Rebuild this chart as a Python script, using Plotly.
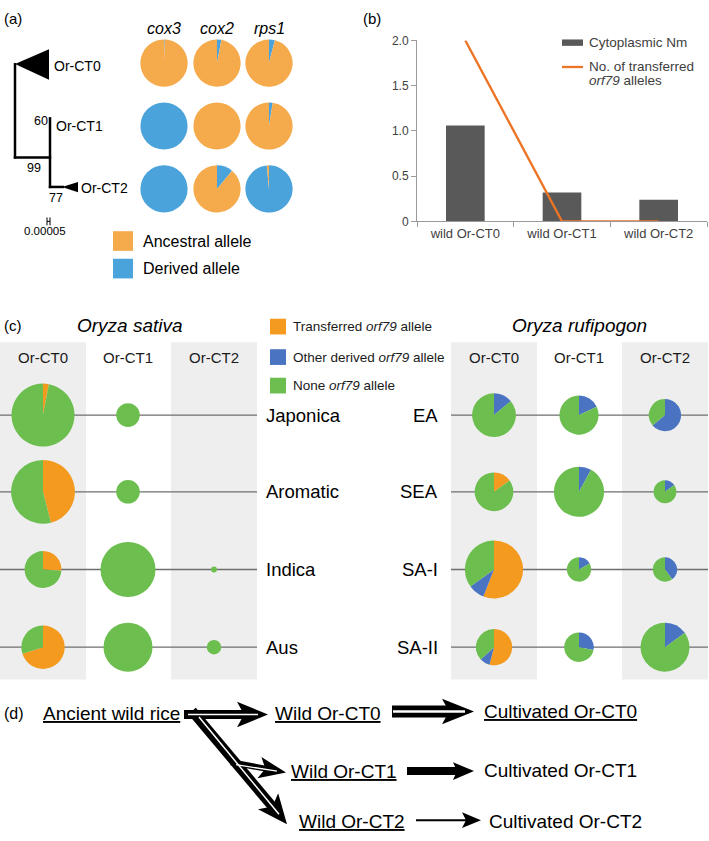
import math
import plotly.graph_objects as go

W, H = 709, 841
FONT = "Liberation Sans, Arial, Helvetica, sans-serif"

# ---------------- data ----------------
# (a) tree + allele pies
genes = ["cox3", "cox2", "rps1"]
tree_clades = ["Or-CT0", "Or-CT1", "Or-CT2"]
bootstrap_values = ["60", "99", "77"]
scale_label = "0.00005"
derived_ct0 = [0.005, 0.03, 0.04]   # fraction derived allele per gene
derived_ct1 = [1.0, 0.0, 0.025]
derived_ct2 = [1.0, 0.11, 0.985]
allele_legend = ["Ancestral allele", "Derived allele"]

# (b) Nm bar chart
nm_categories = ["wild Or-CT0", "wild Or-CT1", "wild Or-CT2"]
cytoplasmic_nm = [1.06, 0.32, 0.24]
transferred_orf79 = [2, 0, 0]
nm_yticks = [0, 0.5, 1.0, 1.5, 2.0]
nm_yticktext = ["0", "0.5", "1.0", "1.5", "2.0"]

# (c) orf79 pies  (rows = groups, columns = Or-CT0/1/2)
clade_columns = ["Or-CT0", "Or-CT1", "Or-CT2"]
sativa_groups = ["Japonica", "Aromatic", "Indica", "Aus"]
sativa_transferred = [[0.03, 0, 0], [0.46, 0, 0], [0.26, 0, 0], [0.70, 0, 0]]
sativa_other = [[0, 0, 0], [0, 0, 0], [0, 0, 0], [0, 0, 0]]
sativa_none = [[0.97, 1, 0], [0.54, 1, 0], [0.74, 1, 1], [0.30, 1, 1]]
sativa_n = [[114, 16, 0], [117, 16, 0], [39, 87, 1], [54, 69, 6]]

rufipogon_groups = ["EA", "SEA", "SA-I", "SA-II"]
rufipogon_transferred = [[0, 0, 0], [0.15, 0, 0], [0.56, 0, 0], [0.54, 0, 0]]
rufipogon_other = [[0.14, 0.18, 0.64], [0, 0.08, 0.15], [0.09, 0.17, 0.40], [0.09, 0.28, 0.15]]
rufipogon_none = [[0.86, 0.82, 0.36], [0.85, 0.92, 0.85], [0.35, 0.83, 0.60], [0.37, 0.72, 0.85]]
rufipogon_n = [[55, 44, 30], [43, 72, 15], [97, 17, 17], [38, 25, 69]]
orf79_legend = ["Transferred <i>orf79</i> allele", "Other derived <i>orf79</i> allele", "None <i>orf79</i> allele"]

# (d) scheme labels
scheme_source = "Ancient wild rice"
scheme_wild = ["Wild Or-CT0", "Wild Or-CT1", "Wild Or-CT2"]
scheme_cult = ["Cultivated Or-CT0", "Cultivated Or-CT1", "Cultivated Or-CT2"]

# ---------------- styles / layout constants ----------------
A_ORANGE, A_BLUE = "#F5AA4B", "#4BA3DC"
C_ORANGE, C_BLUE, C_GREEN = "#F39A1F", "#4A73C1", "#6CBE4F"
BG_GRAY = "#EEEEEE"
BAR_GRAY = "#595959"
LINE_ORANGE = "#EC7424"


def fx(x):
    return x / W


def fy(y):
    return 1 - y / H


def pie_domain(cx, cy, r):
    return dict(x=[fx(cx - r), fx(cx + r)], y=[fy(cy + r), fy(cy - r)])


shapes = []
annotations = []


def line(x0, y0, x1, y1, color="black", width=2, layer="above"):
    shapes.append(dict(type="line", xref="paper", yref="paper",
                       x0=fx(x0), y0=fy(y0), x1=fx(x1), y1=fy(y1),
                       line=dict(color=color, width=width), layer=layer))


def rect(x0, y0, x1, y1, color, layer="below"):
    shapes.append(dict(type="rect", xref="paper", yref="paper",
                       x0=fx(x0), y0=fy(y1), x1=fx(x1), y1=fy(y0),
                       fillcolor=color, line=dict(width=0), layer=layer))


def poly(points, color="black"):
    path = "M " + " L ".join(f"{fx(x):.6f},{fy(y):.6f}" for x, y in points) + " Z"
    shapes.append(dict(type="path", xref="paper", yref="paper", path=path,
                       fillcolor=color, line=dict(width=0), layer="above"))


def txt(x, y, s, size, xanchor="left", color="#000000", yanchor="middle"):
    annotations.append(dict(x=fx(x), y=fy(y), xref="paper", yref="paper", text=s,
                            showarrow=False, xanchor=xanchor, yanchor=yanchor,
                            font=dict(family=FONT, size=size, color=color)))


def arrowhead(tx, ty, ux, uy, L, w, notch):
    n = math.hypot(ux, uy)
    ux, uy = ux / n, uy / n
    px, py = -uy, ux
    bx, by = tx - L * ux, ty - L * uy
    nx, ny = tx - (L - notch) * ux, ty - (L - notch) * uy
    poly([(tx, ty), (bx + w * px, by + w * py), (nx, ny), (bx - w * px, by - w * py)])


fig = go.Figure()

# ================= (a) =================
txt(2, 12, "(a)", 15)
# tree
line(15, 57, 15, 154.2, width=2.5)
line(13.8, 153, 51.2, 153, width=2.5)
line(50, 112, 50, 184.2, width=2.5)
line(48.8, 183, 64, 183, width=2.5)
poly([(15, 58), (49, 43), (49, 74)])
poly([(62, 183), (78, 178), (78, 188.5)])
txt(52, 60, tree_clades[0], 14)
txt(54, 121, tree_clades[1], 14)
txt(79, 184, tree_clades[2], 14)
txt(50, 116, bootstrap_values[0], 12.5, xanchor="right")
txt(34, 164, bootstrap_values[1], 12.5, xanchor="center")
txt(56, 194, bootstrap_values[2], 12.5, xanchor="center")
line(47, 214, 47, 222, width=1)
line(50, 214, 50, 222, width=1)
line(47, 218, 50, 218, width=1)
txt(44.5, 228, scale_label, 11.5, xanchor="center")

A_COLS = [164, 217, 269]
A_ROWS = [57, 121, 185]
A_R = 24
for gi, g in enumerate(genes):
    txt(A_COLS[gi], 22, f"<i>{g}</i>", 16, xanchor="center")
for ri, fr in enumerate([derived_ct0, derived_ct1, derived_ct2]):
    for gi in range(3):
        fig.add_trace(go.Pie(values=[fr[gi], 1 - fr[gi]], marker=dict(colors=[A_BLUE, A_ORANGE], line=dict(width=0)),
                             domain=pie_domain(A_COLS[gi], A_ROWS[ri], A_R), sort=False,
                             direction="clockwise", rotation=0, textinfo="none",
                             hoverinfo="skip", showlegend=False))
rect(113, 228, 133, 248, A_ORANGE, layer="above")
rect(113, 256, 133, 276, A_BLUE, layer="above")
txt(141, 238.5, allele_legend[0], 16)
txt(141, 266, allele_legend[1], 16)

# ================= (b) =================
txt(361, 12, "(b)", 15)
fig.add_trace(go.Bar(x=nm_categories, y=cytoplasmic_nm, marker=dict(color=BAR_GRAY, line=dict(width=0)),
                     width=0.4, xaxis="x", yaxis="y", hoverinfo="skip", showlegend=False))
fig.add_trace(go.Scatter(x=nm_categories, y=transferred_orf79, mode="lines",
                         line=dict(color=LINE_ORANGE, width=2.3), xaxis="x", yaxis="y",
                         hoverinfo="skip", showlegend=False))
rect(562, 33, 583, 39.5, BAR_GRAY, layer="above")
line(562, 61, 583, 61, color=LINE_ORANGE, width=2.3)
txt(587, 36, "Cytoplasmic Nm", 13.5, color="#404040")
txt(587, 61, "No. of transferred", 13.5, color="#404040")
txt(587, 74.5, "<i>orf79</i> alleles", 13.5, color="#404040")

# ================= (c) =================
txt(2, 324, "(c)", 15)
txt(130, 324, "<i>Oryza sativa</i>", 19, xanchor="center")
txt(579, 324, "<i>Oryza rufipogon</i>", 19, xanchor="center")

C_TOP, C_BOT = 341, 684
C_SAT_COLS = [43, 128, 214]
C_RUF_COLS = [494, 579, 665]
C_ROWS = [415, 493, 572, 651]
C_HALF = 43
for cols in (C_SAT_COLS, C_RUF_COLS):
    for ci in (0, 2):
        rect(cols[ci] - C_HALF, C_TOP, cols[ci] + C_HALF, C_BOT, BG_GRAY)
    for ci, c in enumerate(clade_columns):
        txt(cols[ci], 356, c, 15, xanchor="center", color="#1a1a1a")
for y in C_ROWS:
    line(0, y, 257, y, color="#6e6e6e", width=1.3, layer="below")
    line(451, y, 708, y, color="#6e6e6e", width=1.3, layer="below")
for ri, g in enumerate(sativa_groups):
    txt(264, C_ROWS[ri], g, 18.5)
for ri, g in enumerate(rufipogon_groups):
    txt(440, C_ROWS[ri], g, 18.5, xanchor="right")


def orf_pies(cols, tr, ot, no, nn):
    for ri in range(4):
        for ci in range(3):
            if nn[ri][ci] <= 0:
                continue
            r = 3.0 * math.sqrt(nn[ri][ci])
            fig.add_trace(go.Pie(values=[tr[ri][ci], ot[ri][ci], no[ri][ci]],
                                 marker=dict(colors=[C_ORANGE, C_BLUE, C_GREEN], line=dict(width=0)),
                                 domain=pie_domain(cols[ci], C_ROWS[ri], r), sort=False,
                                 direction="clockwise", rotation=0, textinfo="none",
                                 hoverinfo="skip", showlegend=False))


orf_pies(C_SAT_COLS, sativa_transferred, sativa_other, sativa_none, sativa_n)
orf_pies(C_RUF_COLS, rufipogon_transferred, rufipogon_other, rufipogon_none, rufipogon_n)

for i, (col, ly) in enumerate(zip([C_ORANGE, C_BLUE, C_GREEN], [325, 356, 385])):
    rect(270, ly - 8, 286, ly + 8, col, layer="above")
    txt(291, ly, orf79_legend[i], 13.5, color="#1a1a1a")

# ================= (d) =================
txt(2, 718, "(d)", 16)
txt(41, 718, f"<u>{scheme_source}</u>", 19)
txt(273, 718, f"<u>{scheme_wild[0]}</u>", 19)
txt(289, 777, f"<u>{scheme_wild[1]}</u>", 19)
txt(297, 828, f"<u>{scheme_wild[2]}</u>", 19)
txt(482, 716, f"<u>{scheme_cult[0]}</u>", 19)
txt(482, 776, scheme_cult[1], 19)
txt(487, 828, scheme_cult[2], 19)

# arrow ancient -> wild CT0 (hollow style)
line(184, 719.5, 246, 719.5, width=9)
arrowhead(268, 719.5, 1, 0, 31, 13, 7)
# diagonal to wild CT2
dx, dy = 287 - 196, 831 - 719
line(192, 716, 287 - dx / math.hypot(dx, dy) * 22, 831 - dy / math.hypot(dx, dy) * 22, width=10)
arrowhead(287, 831, dx, dy, 30, 13, 7)
# branch to wild CT1
line(231, 768, 268, 775, width=6)
arrowhead(286, 778.5, 54, 10, 27, 11, 6)
# white inner lines
line(188, 719.5, 258, 719.5, color="white", width=1.5)
line(199, 722, 279, 821, color="white", width=1.5)
line(236, 770.5, 277, 777, color="white", width=1.3)

# wild CT0 -> cultivated CT0
line(392, 716.5, 452, 716.5, width=12)
arrowhead(474, 716.5, 1, 0, 32, 13, 7)
line(393, 716.5, 465, 716.5, color="white", width=2.5)
# wild CT1 -> cultivated CT1
line(407, 777, 459, 777, width=8)
arrowhead(474, 777, 1, 0, 21, 9, 4)
# wild CT2 -> cultivated CT2
line(416, 827, 468, 827, width=2)
arrowhead(481, 827, 1, 0, 19, 8, 4)

fig.update_layout(
    width=W, height=H, margin=dict(l=0, r=0, t=0, b=0),
    paper_bgcolor="white", plot_bgcolor="rgba(0,0,0,0)", showlegend=False,
    shapes=shapes, annotations=annotations,
    xaxis=dict(domain=[fx(417), fx(707)], anchor="y", type="category", range=[-0.5, 2.5],
               showline=True, linecolor="#9a9a9a", linewidth=1, ticks="outside",
               tickson="boundaries", ticklen=5, tickcolor="#9a9a9a", showgrid=False,
               tickfont=dict(family=FONT, size=13, color="#404040"), fixedrange=True),
    yaxis=dict(domain=[fy(218), fy(34)], anchor="x", range=[0, 2.0],
               showline=True, linecolor="#9a9a9a", linewidth=1, ticks="outside", ticklen=5,
               tickcolor="#9a9a9a", showgrid=False, zeroline=False,
               tickvals=nm_yticks, ticktext=nm_yticktext,
               tickfont=dict(family=FONT, size=12, color="#404040"), fixedrange=True),
)

post = (
    "var gd=document.getElementById('{plot_id}');"
    "gd.style.position='fixed';gd.style.left='0px';gd.style.top='0px';"
    "document.documentElement.style.margin='0px';document.body.style.margin='0px';"
    "document.documentElement.style.overflow='hidden';document.body.style.overflow='hidden';"
)
fig.write_html("out.html", config={"displayModeBar": False, "staticPlot": True}, post_script=post)
